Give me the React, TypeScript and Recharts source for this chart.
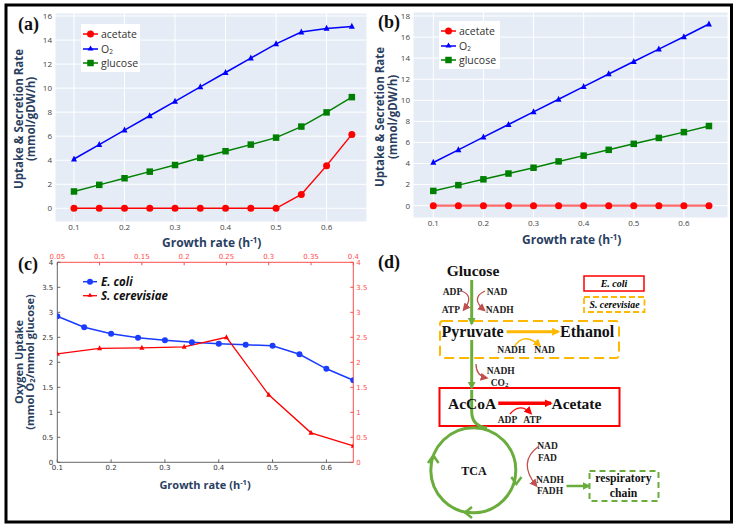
import React from "react";
import { LineChart, Line, XAxis, YAxis, CartesianGrid } from "recharts";

// growth rates (h-1) used by panels a, b and the E. coli curve of c
const growthRates = [0.1, 0.15, 0.2, 0.25, 0.3, 0.35, 0.4, 0.45, 0.5, 0.55, 0.6, 0.65];

// (a) E. coli
const ecAcetate = [0, 0, 0, 0, 0, 0, 0, 0, 0, 1.15, 3.55, 6.15];
const ecO2 = [4.1, 5.3, 6.5, 7.7, 8.9, 10.1, 11.3, 12.5, 13.68, 14.67, 14.97, 15.13];
const ecGlucose = [1.4, 1.95, 2.5, 3.05, 3.6, 4.2, 4.75, 5.3, 5.88, 6.8, 7.98, 9.25];

// (b) S. cerevisiae
const scAcetate = [0, 0, 0, 0, 0, 0, 0, 0, 0, 0, 0, 0];
const scO2 = [4.1, 5.3, 6.5, 7.7, 8.9, 10.1, 11.3, 12.5, 13.68, 14.86, 16.03, 17.24];
const scGlucose = [1.4, 1.95, 2.5, 3.05, 3.6, 4.2, 4.75, 5.3, 5.87, 6.43, 6.98, 7.56];

// (c) oxygen uptake per glucose
const ecoliYield = [2.92, 2.7, 2.57, 2.49, 2.44, 2.4, 2.37, 2.35, 2.33, 2.16, 1.87, 1.64];
const yeastRates = [0.05, 0.1, 0.15, 0.2, 0.25, 0.3, 0.35, 0.4];
const yeastYield = [2.17, 2.28, 2.29, 2.31, 2.5, 1.35, 0.59, 0.33];

const rateTicks = [0.1, 0.2, 0.3, 0.4, 0.5, 0.6];
const yeastTicks = [0.05, 0.1, 0.15, 0.2, 0.25, 0.3, 0.35, 0.4];
const rateTicksA = [0, 2, 4, 6, 8, 10, 12, 14, 16];
const rateTicksB = [0, 2, 4, 6, 8, 10, 12, 14, 16, 18];
const yieldTicks = [0, 0.5, 1, 1.5, 2, 2.5, 3, 3.5, 4];

const rowsA = growthRates.map((rate, i) => ({ rate, acetate: ecAcetate[i], o2: ecO2[i], glucose: ecGlucose[i] }));
const rowsB = growthRates.map((rate, i) => ({ rate, acetate: scAcetate[i], o2: scO2[i], glucose: scGlucose[i] }));
const ecoliRows = growthRates.map((rate, i) => ({ rate, v: ecoliYield[i] }));
const yeastRows = yeastRates.map((rate, i) => ({ rate, v: yeastYield[i] }));

const RED = "#ff0000";
const BLUE = "#0000ff";
const GREEN = "#008000";
const TITLE = "#2a3f5f";
const PINK = "#ff4d4d";

const circleDot = (color: string, r: number) => (p: any) => (
    <circle key={`c${p.index}`} cx={p.cx} cy={p.cy} r={r} fill={color} />
);
const squareDot = (color: string, s: number) => (p: any) => (
    <rect key={`s${p.index}`} x={p.cx - s / 2} y={p.cy - s / 2} width={s} height={s} fill={color} />
);
const triangleDot = (color: string, s: number) => (p: any) => (
    <polygon
        key={`t${p.index}`}
        points={`${p.cx},${p.cy - s * 0.6} ${p.cx - s / 2},${p.cy + s * 0.4} ${p.cx + s / 2},${p.cy + s * 0.4}`}
        fill={color}
    />
);

const plotlyTick = { fill: "#444", fontSize: 8, fontFamily: "Open Sans" };

function RatePanel({ rows, yDomain, xDomain, yTicks, yWidth, margin, acetateStroke }: any) {
    return (
        <LineChart width={margin.w} height={260} data={rows} margin={{ top: margin.top, right: margin.right, bottom: 0, left: 0 }}>
            <CartesianGrid stroke="#fff" fill="#e5ecf6" />
            <XAxis
                dataKey="rate"
                type="number"
                domain={xDomain}
                ticks={rateTicks}
                interval={0}
                allowDataOverflow
                height={margin.xh}
                axisLine={false}
                tickLine={false}
                tickSize={0}
                tickMargin={2}
                tick={plotlyTick}
            />
            <YAxis
                type="number"
                domain={yDomain}
                ticks={yTicks}
                interval={0}
                allowDataOverflow
                width={yWidth}
                axisLine={false}
                tickLine={false}
                tickSize={0}
                tickMargin={margin.ym}
                tick={plotlyTick}
            />
            <Line dataKey="acetate" stroke={acetateStroke} strokeWidth={acetateStroke === RED ? 1.5 : 2.2} dot={circleDot(RED, 3.5)} activeDot={false} isAnimationActive={false} />
            <Line dataKey="o2" stroke={BLUE} strokeWidth={1.5} dot={triangleDot(BLUE, 6)} activeDot={false} isAnimationActive={false} />
            <Line dataKey="glucose" stroke={GREEN} strokeWidth={1.5} dot={squareDot(GREEN, 6.5)} activeDot={false} isAnimationActive={false} />
        </LineChart>
    );
}

function RateLegend({ x, y, w }: { x: number; y: number; w: number }) {
    const t = { fontFamily: "Open Sans", fontSize: 10.5, fill: "#333" };
    return (
        <g>
            <rect x={x} y={y} width={w} height={48} fill="#fff" />
            <line x1={x + 2} x2={x + 17} y1={y + 10} y2={y + 10} stroke={RED} strokeWidth={1.5} />
            <circle cx={x + 9.5} cy={y + 10} r={3.5} fill={RED} />
            <text x={x + 20} y={y + 13.5} {...t}>acetate</text>
            <line x1={x + 2} x2={x + 17} y1={y + 25} y2={y + 25} stroke={BLUE} strokeWidth={1.5} />
            <polygon points={`${x + 9.5},${y + 21.4} ${x + 6.5},${y + 26.4} ${x + 12.5},${y + 26.4}`} fill={BLUE} />
            <text x={x + 20} y={y + 28.5} {...t}>
                O<tspan dy={1.8} fontSize={6.5}>2</tspan>
            </text>
            <line x1={x + 2} x2={x + 17} y1={y + 39} y2={y + 39} stroke={GREEN} strokeWidth={1.5} />
            <rect x={x + 6.25} y={y + 35.75} width={6.5} height={6.5} fill={GREEN} />
            <text x={x + 20} y={y + 43} {...t}>glucose</text>
        </g>
    );
}

function Diagram() {
    const serif = "Liberation Serif";
    const big = { fontFamily: serif, fontWeight: 700, fontSize: 16, fill: "#111" };
    const small = { fontFamily: serif, fontWeight: 700, fontSize: 9.5, fill: "#222" };
    const green = "#6aad3d";
    const orange = "#ffb800";
    const brown = "#c0504d";
    return (
        <g>
            <defs>
                {[
                    ["ahGreen", green],
                    ["ahOrange", orange],
                    ["ahRed", RED],
                    ["ahBrown", brown],
                ].map(([id, c]) => (
                    <marker key={id} id={id} viewBox="0 0 10 10" refX={8} refY={5} markerWidth={8} markerHeight={8} markerUnits="userSpaceOnUse" orient="auto">
                        <path d="M0,0 L10,5 L0,10 z" fill={c} />
                    </marker>
                ))}
            </defs>
            {/* legend */}
            <rect x={584} y={276} width={60} height={15} fill="#fff" stroke={RED} strokeWidth={1.5} />
            <text x={614} y={286.5} textAnchor="middle" fontFamily={serif} fontStyle="italic" fontWeight={700} fontSize={10}>E. coli</text>
            <rect x={584} y={297} width={60.5} height={15} fill="none" stroke={orange} strokeWidth={1.8} strokeDasharray="6 3" />
            <text x={614.5} y={307.5} textAnchor="middle" fontFamily={serif} fontStyle="italic" fontWeight={700} fontSize={9.8}>S. cerevisiae</text>

            {/* boxes */}
            <rect x={440} y={321} width={179} height={37} rx={3} fill="none" stroke={orange} strokeWidth={2} strokeDasharray="10 5" />
            <rect x={439.5} y={388} width={180} height={38} fill="none" stroke={RED} strokeWidth={2} />
            <rect x={589.5} y={471} width={69} height={30} fill="none" stroke={green} strokeWidth={2} strokeDasharray="6 4" />

            {/* green main flux */}
            <line x1={471.7} y1={280} x2={471.7} y2={324} stroke={green} strokeWidth={3} markerEnd="url(#ahGreen)" />
            <line x1={471.7} y1={340} x2={471.7} y2={388} stroke={green} strokeWidth={3} markerEnd="url(#ahGreen)" />
            <path d="M471.7 390 L471.7 412 Q472 426 487 428" fill="none" stroke={green} strokeWidth={3} />
            <circle cx={473.3} cy={470.3} r={42.5} fill="none" stroke={green} strokeWidth={3} />
            <path d="M428 463 L433.3 455.5 L438.6 463" fill="none" stroke={green} strokeWidth={2.5} />
            <path d="M472 507 L465 512.5 L472 518" fill="none" stroke={green} strokeWidth={2.5} />
            <path d="M511.3 477 L516.3 484 L521.5 477" fill="none" stroke={green} strokeWidth={2.5} />
            <line x1={566.5} y1={486} x2={589} y2={486} stroke={green} strokeWidth={2.5} markerEnd="url(#ahGreen)" />

            {/* ethanol branch */}
            <line x1={506.7} y1={331.7} x2={558.5} y2={331.7} stroke={orange} strokeWidth={3} markerEnd="url(#ahOrange)" />
            <path d="M514 347 Q524 331 540 346" fill="none" stroke={orange} strokeWidth={1.3} markerEnd="url(#ahOrange)" />

            {/* acetate branch */}
            <line x1={498.3} y1={403.3} x2={551} y2={403.3} stroke={RED} strokeWidth={3.5} markerEnd="url(#ahRed)" />
            <path d="M510 414 Q520 402 531 413.5" fill="none" stroke={RED} strokeWidth={1.3} markerEnd="url(#ahRed)" />

            {/* cofactor arrows */}
            <path d="M461.5 291 Q475 296 463.5 310" fill="none" stroke={brown} strokeWidth={1.3} markerEnd="url(#ahBrown)" />
            <path d="M485 291 Q470 298 484.5 310.5" fill="none" stroke={brown} strokeWidth={1.3} markerEnd="url(#ahBrown)" />
            <path d="M476 364 Q476 376 487 378" fill="none" stroke={brown} strokeWidth={1.3} markerEnd="url(#ahBrown)" />
            <path d="M538.5 446.5 Q517 462 536.5 486" fill="none" stroke={brown} strokeWidth={1.3} markerEnd="url(#ahBrown)" />

            {/* labels */}
            <text x={473} y={276} textAnchor="middle" {...big} fontSize={15.5}>Glucose</text>
            <text x={441.5} y={337} {...big}>Pyruvate</text>
            <text x={560} y={337} {...big}>Ethanol</text>
            <text x={448} y={408.5} {...big} fontSize={15.5}>AcCoA</text>
            <text x={551.5} y={408.5} {...big} fontSize={15.5}>Acetate</text>
            <text x={474} y={475} textAnchor="middle" {...big} fontSize={12}>TCA</text>

            <text x={442.7} y={295} {...small}>ADP</text>
            <text x={486.7} y={295} {...small}>NAD</text>
            <text x={441.7} y={313} {...small}>ATP</text>
            <text x={485.7} y={313} {...small}>NADH</text>
            <text x={497.3} y={353.3} {...small}>NADH</text>
            <text x={534.3} y={353.3} {...small}>NAD</text>
            <text x={486.7} y={374} {...small}>NADH</text>
            <text x={490.7} y={385.7} {...small}>
                CO<tspan fontSize={7} dy={1.5}>2</tspan>
            </text>
            <text x={497.7} y={422.7} {...small}>ADP</text>
            <text x={523.3} y={422.7} {...small}>ATP</text>
            <text x={547.5} y={449.3} textAnchor="middle" {...small}>NAD</text>
            <text x={547.5} y={461} textAnchor="middle" {...small}>FAD</text>
            <text x={550} y={482.7} textAnchor="middle" {...small}>NADH</text>
            <text x={550} y={494.3} textAnchor="middle" {...small}>FADH</text>
            <text x={623.5} y={482.3} textAnchor="middle" {...big} fontSize={11.7}>respiratory</text>
            <text x={623.5} y={496.7} textAnchor="middle" {...big} fontSize={11.7}>chain</text>
        </g>
    );
}

export default function App() {
    const title = { fontFamily: "Open Sans", fontWeight: 700, fill: TITLE };
    const panel = { fontFamily: "Liberation Serif", fontWeight: 700, fontSize: 18, fill: "#111" };
    const cTick = { fill: "#333", fontSize: 7, fontFamily: "DejaVu Sans" };
    const cTickRed = { fill: PINK, fontSize: 7, fontFamily: "DejaVu Sans" };
    return (
        <div style={{ position: "absolute", left: 0, top: 0, width: 739, height: 530, background: "#fff", overflow: "hidden" }}>
            <div style={{ position: "absolute", left: 0, top: 0 }}>
                <RatePanel
                    rows={rowsA}
                    xDomain={[0.0624, 0.68]}
                    yDomain={[-1.14, 16.25]}
                    yTicks={rateTicksA}
                    yWidth={55}
                    margin={{ w: 370, top: 13, right: 3, xh: 38, ym: 3 }}
                    acetateStroke={RED}
                />
            </div>
            <div style={{ position: "absolute", left: 370, top: 0 }}>
                <RatePanel
                    rows={rowsB}
                    xDomain={[0.0595, 0.688]}
                    yDomain={[-1.17, 18.38]}
                    yTicks={rateTicksB}
                    yWidth={43}
                    margin={{ w: 369, top: 12, right: 11, xh: 42, ym: 3 }}
                    acetateStroke="#ff6b6b"
                />
            </div>
            <div style={{ position: "absolute", left: 0, top: 250 }}>
                <LineChart width={370} height={260} margin={{ top: 0, right: 0, bottom: 0, left: 0 }}>
                    <XAxis
                        xAxisId="bottom"
                        dataKey="rate"
                        type="number"
                        orientation="bottom"
                        domain={[0.1, 0.65]}
                        ticks={rateTicks}
                        interval={0}
                        allowDataOverflow
                        height={47.7}
                        stroke="#666"
                        tickSize={-3}
                        tickMargin={6}
                        tick={cTick}
                    />
                    <XAxis
                        xAxisId="top"
                        dataKey="rate"
                        type="number"
                        orientation="top"
                        domain={[0.05, 0.4]}
                        ticks={yeastTicks}
                        interval={0}
                        allowDataOverflow
                        height={12.3}
                        stroke={PINK}
                        tickSize={-3}
                        tickMargin={6}
                        tick={cTickRed}
                    />
                    <YAxis
                        yAxisId="left"
                        type="number"
                        domain={[0, 4]}
                        ticks={yieldTicks}
                        interval={0}
                        width={57.3}
                        stroke="#666"
                        tickSize={-3}
                        tickMargin={7}
                        tick={cTick}
                    />
                    <YAxis
                        yAxisId="right"
                        orientation="right"
                        type="number"
                        domain={[0, 4]}
                        ticks={yieldTicks}
                        interval={0}
                        width={16.7}
                        stroke={PINK}
                        tickSize={-3}
                        tickMargin={6}
                        tick={cTickRed}
                    />
                    <Line data={ecoliRows} xAxisId="bottom" yAxisId="left" dataKey="v" stroke="#1a3cff" strokeWidth={1.5} dot={circleDot("#1a3cff", 3)} activeDot={false} isAnimationActive={false} />
                    <Line data={yeastRows} xAxisId="top" yAxisId="right" dataKey="v" stroke={RED} strokeWidth={1.3} dot={triangleDot(RED, 5)} activeDot={false} isAnimationActive={false} />
                </LineChart>
            </div>
            <svg width={739} height={530} style={{ position: "absolute", left: 0, top: 0, pointerEvents: "none" }}>
                <rect x={6} y={5} width={725.5} height={517} fill="none" stroke="#000" strokeWidth={3} />

                <text x={18} y={29.5} {...panel}>(a)</text>
                <text x={378} y={28} {...panel}>(b)</text>
                <text x={18} y={270} {...panel}>(c)</text>
                <text x={378} y={268} {...panel}>(d)</text>

                {/* (a) titles */}
                <g transform="translate(18.3,119) rotate(-90)">
                    <text textAnchor="middle" dominantBaseline="central" fontSize={11.5} {...title}>Uptake &amp; Secretion Rate</text>
                </g>
                <g transform="translate(30.7,119) rotate(-90)">
                    <text textAnchor="middle" dominantBaseline="central" fontSize={11.5} {...title}>(mmol/gDW/h)</text>
                </g>
                <text x={211.7} y={247} textAnchor="middle" fontSize={12} {...title}>
                    Growth rate (h<tspan dy={-4} fontSize={8}>-1</tspan><tspan dy={4}>)</tspan>
                </text>
                <RateLegend x={81} y={24} w={59} />

                {/* (b) titles */}
                <g transform="translate(379.3,117) rotate(-90)">
                    <text textAnchor="middle" dominantBaseline="central" fontSize={11.5} {...title}>Uptake &amp; Secretion Rate</text>
                </g>
                <g transform="translate(392.7,117) rotate(-90)">
                    <text textAnchor="middle" dominantBaseline="central" fontSize={11.5} {...title}>(mmol/gDW/h)</text>
                </g>
                <text x={571.7} y={244} textAnchor="middle" fontSize={12} {...title}>
                    Growth rate (h<tspan dy={-4} fontSize={8}>-1</tspan><tspan dy={4}>)</tspan>
                </text>
                <RateLegend x={439} y={21} w={61} />

                {/* (c) titles and legend */}
                <g transform="translate(18.3,362) rotate(-90)">
                    <text textAnchor="middle" dominantBaseline="central" fontSize={11} {...title}>Oxygen Uptake</text>
                </g>
                <g transform="translate(29.3,362) rotate(-90)">
                    <text textAnchor="middle" dominantBaseline="central" fontSize={11} {...title}>
                        (mmol O<tspan dy={2.5} fontSize={7.5}>2</tspan><tspan dy={-2.5}>/mmol glucose)</tspan>
                    </text>
                </g>
                <text x={205} y={488.5} textAnchor="middle" fontSize={11} {...title}>
                    Growth rate (h<tspan dy={-4} fontSize={7.5}>-1</tspan><tspan dy={4}>)</tspan>
                </text>
                <line x1={83} x2={97} y1={281.7} y2={281.7} stroke="#1a3cff" strokeWidth={1.5} />
                <circle cx={90} cy={281.7} r={3} fill="#1a3cff" />
                <text x={101} y={285.7} fontFamily="Open Sans" fontStyle="italic" fontWeight={700} fontSize={11.5} fill="#111">E. coli</text>
                <line x1={83} x2={97} y1={295.7} y2={295.7} stroke={RED} strokeWidth={1.3} />
                <polygon points="90,292.7 87.5,296.7 92.5,296.7" fill={RED} />
                <text x={101} y={299.7} fontFamily="Open Sans" fontStyle="italic" fontWeight={700} fontSize={11.5} fill="#111">S. cerevisiae</text>

                <Diagram />
            </svg>
        </div>
    );
}
